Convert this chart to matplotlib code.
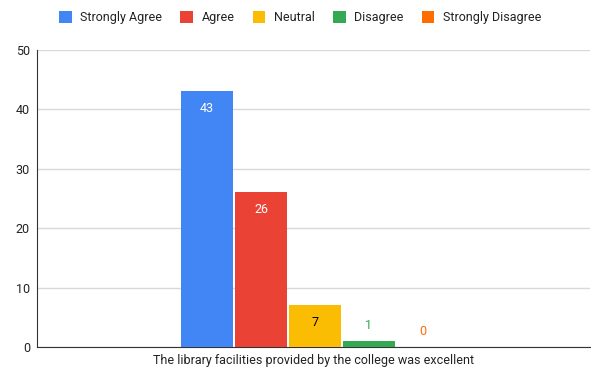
import numpy as np
import matplotlib.pyplot as plt

plt.rcParams['font.family'] = ['Roboto', 'DejaVu Sans']

# data
question = "The library facilities provided by the college was excellent"
responses = ["Strongly Agree", "Agree", "Neutral", "Disagree", "Strongly Disagree"]
counts = [43, 26, 7, 1, 0]
colors = ["#4285F4", "#EA4335", "#FBBC04", "#34A853", "#FF6D01"]
label_colors = ["white", "white", "black", "#34A853", "#FF6D01"]

fig = plt.figure(figsize=(5.91, 3.73), dpi=100)
ax = fig.add_axes([0.0626, 0.0697, 0.935, 0.797])

step = 54 / 553
width = 52 / 553
for i, (r, c, col, lc) in enumerate(zip(responses, counts, colors, label_colors)):
    x = (i - 2) * step + 0.003
    ax.bar(x, c, width=width, color=col, label=r, zorder=3)
    if c >= 5:
        ax.text(x, c - 1.8, str(c), ha='center', va='top', color=lc, fontsize=9, zorder=4)
    else:
        ax.text(x, c + 2.6, str(c), ha='center', va='center', color=lc, fontsize=9, zorder=4)

ax.set_xlim(-0.5, 0.5)
ax.set_ylim(0, 50)
ax.set_yticks(range(0, 51, 10))
ax.set_xticks([0])
ax.set_xticklabels([question])
ax.tick_params(axis='both', length=0, labelsize=9, colors='#222222')
ax.tick_params(axis='x', pad=5)
ax.tick_params(axis='y', pad=5)
ax.yaxis.grid(True, color='#d9d9d9', linewidth=1, zorder=0)
for s in ['top', 'right']:
    ax.spines[s].set_visible(False)
ax.spines['left'].set_color('#333333')
ax.spines['bottom'].set_color('#333333')

fig.legend(loc='upper center', bbox_to_anchor=(0.508, 1.0), ncol=5, frameon=False,
           fontsize=9, handlelength=1.0, handleheight=1.0, handletextpad=0.7,
           columnspacing=1.45, labelcolor='#222222')

fig.savefig("out.png", dpi=100)
